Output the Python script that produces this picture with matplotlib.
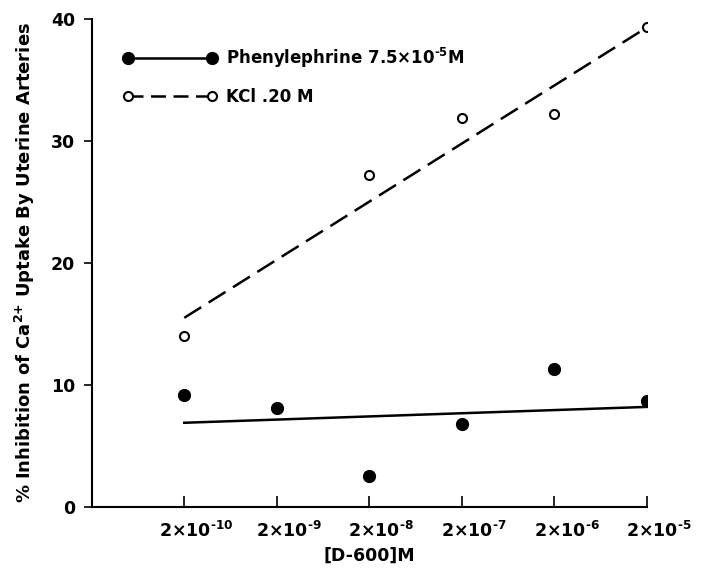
import numpy as np
import matplotlib.pyplot as plt
import matplotlib.transforms as mtransforms

plt.rcParams['font.family'] = 'DejaVu Sans'
plt.rcParams['font.weight'] = 'bold'
plt.rcParams['mathtext.fontset'] = 'custom'
plt.rcParams['mathtext.rm'] = 'DejaVu Sans:bold'
plt.rcParams['mathtext.bf'] = 'DejaVu Sans:bold'

# concentrations of D-600 (position 1..6)
dose_labels = [r'2×10$^{\text{-10}}$', r'2×10$^{\text{-9}}$', r'2×10$^{\text{-8}}$',
               r'2×10$^{\text{-7}}$', r'2×10$^{\text{-6}}$', r'2×10$^{\text{-5}}$']
dose_pos = [1, 2, 3, 4, 5, 6]

# phenylephrine 7.5e-5 M
pe_x = [1, 2, 3, 4, 5, 6]
pe_y = [9.2, 8.1, 2.5, 6.8, 11.3, 8.7]
pe_fit_x = [1, 6]
pe_fit_y = [6.9, 8.2]

# KCl .20 M
kcl_x = [1, 3, 4, 5, 6]
kcl_y = [14.0, 27.2, 31.9, 32.2, 39.3]
kcl_fit_x = [1, 6]
kcl_fit_y = [15.5, 39.3]

fig = plt.figure(figsize=(7.11, 5.69), dpi=100)
ax = fig.add_axes([0.129, 0.109, 0.781, 0.858])

# fitted lines
ax.plot(pe_fit_x, pe_fit_y, color='black', lw=1.8)
ax.plot(kcl_fit_x, kcl_fit_y, color='black', lw=1.8, dashes=(8, 3.5))

# points
ax.plot(pe_x, pe_y, 'o', color='black', ms=8.5, ls='none')
ax.plot(kcl_x, kcl_y, 'o', mfc='white', mec='black', mew=1.5, ms=6.5, ls='none')

# legend handles
h1, = ax.plot([], [], color='black', lw=1.8, marker='o', ms=8.5,
              label=r'Phenylephrine 7.5×10$^{\text{-5}}$M')
h2, = ax.plot([], [], color='black', lw=1.8, dashes=(6, 3), marker='o',
              mfc='white', mec='black', mew=1.5, ms=6.5, label='KCl .20 M')
ax.legend(handles=[h1, h2], loc='upper left', bbox_to_anchor=(0.03, 0.975),
          frameon=False, numpoints=2, handlelength=5.6, handletextpad=0.55,
          labelspacing=1.05, prop={'size': 12, 'weight': 'bold'})

ax.set_xlim(0, 6)
ax.set_ylim(0, 40)
ax.set_xticks(dose_pos)
ax.set_xticklabels(dose_labels, fontsize=12.5, fontweight='bold')
ax.set_yticks([0, 10, 20, 30, 40])
ax.set_yticklabels(['0', '10', '20', '30', '40'], fontsize=12.5, fontweight='bold')
ax.tick_params(axis='x', direction='in', length=8, width=1.2, pad=10)
ax.tick_params(axis='y', direction='out', length=6, width=1.2, pad=6)

# shift x tick labels a little right, like the original
offset = mtransforms.ScaledTranslation(12 / 100, 0, fig.dpi_scale_trans)
for lab in ax.get_xticklabels():
    lab.set_transform(lab.get_transform() + offset)

for s in ['top', 'right']:
    ax.spines[s].set_visible(False)
for s in ['left', 'bottom']:
    ax.spines[s].set_linewidth(1.5)

ax.set_xlabel('[D-600]M', fontsize=12.5, fontweight='bold', labelpad=4)
ax.set_ylabel(r'% Inhibition of Ca$^{\text{2+}}$ Uptake By Uterine Arteries',
              fontsize=13, fontweight='bold', labelpad=10)

fig.savefig('out.png', dpi=100)
